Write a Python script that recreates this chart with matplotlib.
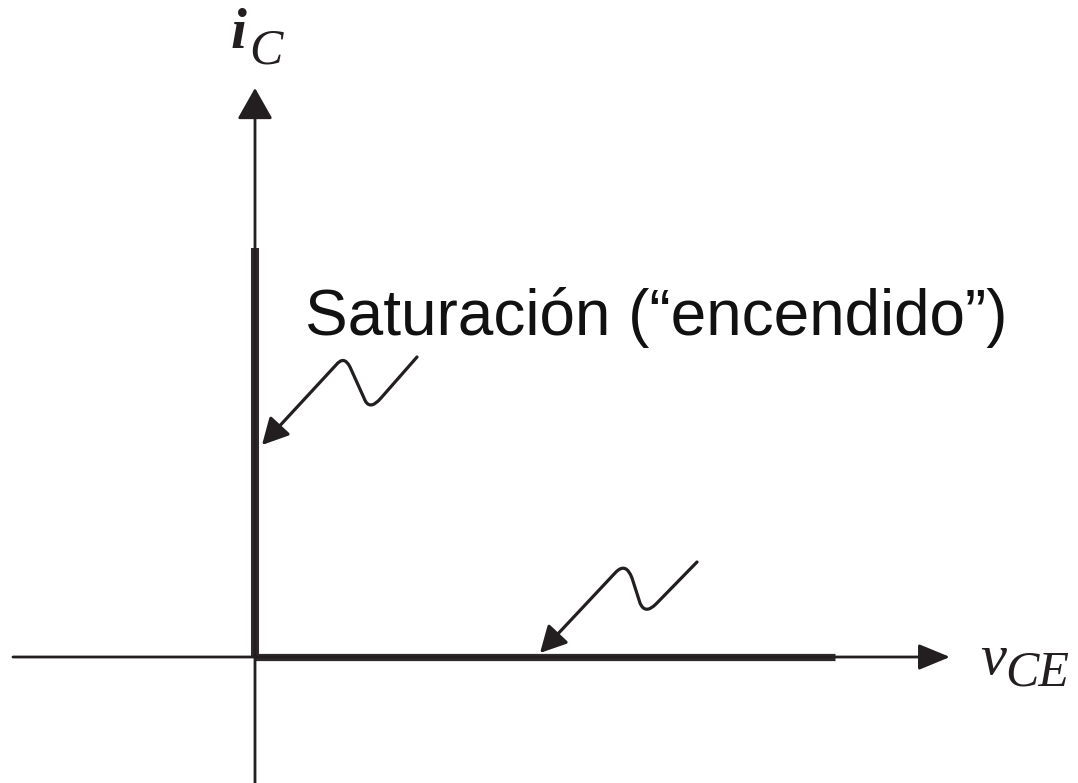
import matplotlib
matplotlib.use("Agg")
import matplotlib.pyplot as plt
from matplotlib.path import Path
from matplotlib.patches import FancyArrowPatch

INK = "#231f20"
THICK = "#2e2a2b"

# operating regions of the switch (v_CE, i_C)
sat_v = [0, 0]
sat_i = [0, 409]
cut_v = [0, 580]
cut_i = [0, 0]

# axes extent
x_axis = [-242, 695]
y_axis = [-126, 569]

# wavy callout arrows: start, valley, peak, tip
call_sat = [(162, 300), (126, 259), (114, 245), (109, 259), (95, 290), (89, 302), (81, 292), (7, 212)]
call_cut = [(442, 95), (401, 53), (390, 42), (385, 54), (377, 79), (371, 95), (361, 85), (285, 4)]
codes = [Path.MOVETO, Path.LINETO, Path.CURVE3, Path.CURVE3,
         Path.LINETO, Path.CURVE3, Path.CURVE3, Path.LINETO]

fig = plt.figure(figsize=(10.78, 7.83), dpi=100)
ax = fig.add_axes([0, 0, 1, 1])
ax.set_xlim(-255, 823)
ax.set_ylim(-126, 657)
ax.axis("off")

# thin axes with arrowheads
ax.annotate("", xy=(x_axis[1], 0), xytext=(x_axis[0], 0),
            arrowprops=dict(arrowstyle="-|>,head_length=0.97,head_width=0.4", lw=2.0,
                            color=INK, shrinkA=0, shrinkB=0, mutation_scale=20))
ax.annotate("", xy=(0, y_axis[1]), xytext=(0, y_axis[0]),
            arrowprops=dict(arrowstyle="-|>,head_length=0.97,head_width=0.55", lw=2.0,
                            color=INK, shrinkA=0, shrinkB=0, mutation_scale=20))

# saturation and cut-off lines
ax.plot(sat_v, sat_i, color=THICK, lw=5.8, solid_capstyle="butt")
ax.plot(cut_v, cut_i, color=THICK, lw=5.2, solid_capstyle="butt")

for pts in (call_sat, call_cut):
    arr = FancyArrowPatch(path=Path(pts, codes),
                          arrowstyle="-|>,head_length=0.8,head_width=0.42",
                          mutation_scale=20, lw=2.3, color=INK, joinstyle="round",
                          capstyle="round")
    ax.add_patch(arr)

ax.text(50, 322, "Saturación (“encendido”)", family="Liberation Sans", fontsize=46,
        color="#111111", va="baseline", ha="left")

serif = dict(family="Liberation Serif", style="italic", color=INK, va="baseline", ha="left")
ax.text(-24, 609, "i", fontsize=41, fontweight="bold", **serif)
ax.text(-6, 593, "C", fontsize=36, **serif)
ax.text(725, -17, "v", fontsize=42, **serif)
ax.text(750, -28, "CE", fontsize=36, **serif)

fig.savefig("out.png", dpi=100)
